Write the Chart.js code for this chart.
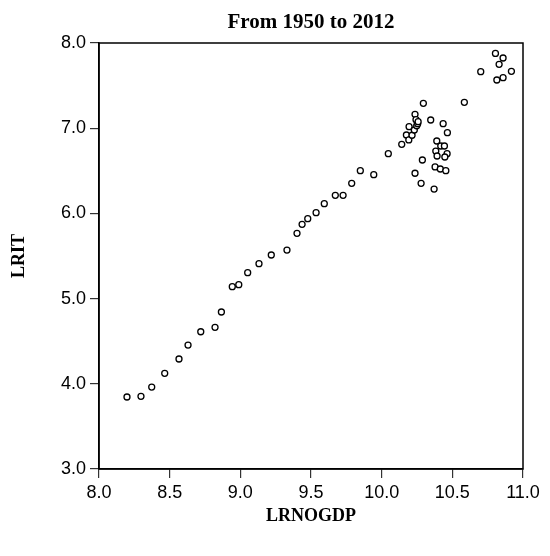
<!DOCTYPE html>
<html>
<head>
<meta charset="utf-8">
<script src="https://cdn.jsdelivr.net/npm/chart.js@4"></script>
<style>
  body { margin: 0; background: #fff; }
  #wrap { width: 550px; height: 556px; }
</style>
</head>
<body>
<div id="wrap"><canvas id="grafik-scatter" width="550" height="556"></canvas></div>
<script>
// LRNOGDP vs LRIT, yearly observations
const lrnogdp = [
    8.198, 8.297, 8.373, 8.465, 8.566, 8.630, 8.720, 8.821, 8.866, 8.943,
    8.989, 9.052, 9.132, 9.219, 9.330, 9.401, 9.437, 9.477, 9.536, 9.594,
    9.672, 9.727, 9.788, 9.849, 9.944, 10.047, 10.142, 10.175, 10.192, 10.194,
    10.215, 10.231, 10.236, 10.243, 10.248, 10.255, 10.258, 10.295, 10.347, 10.435,
    10.465, 10.390, 10.418, 10.444, 10.383, 10.463, 10.392, 10.447, 10.288, 10.378,
    10.415, 10.454, 10.236, 10.279, 10.371, 10.585, 10.701, 10.805, 10.859, 10.831,
    10.918, 10.815, 10.859
];
const lrit = [
    3.845, 3.853, 3.962, 4.123, 4.291, 4.455, 4.611, 4.663, 4.843, 5.140,
    5.163, 5.304, 5.410, 5.512, 5.570, 5.766, 5.872, 5.938, 6.008, 6.114,
    6.212, 6.212, 6.353, 6.501, 6.454, 6.701, 6.811, 6.920, 6.862, 7.018,
    6.917, 6.979, 7.163, 7.100, 7.029, 7.053, 7.076, 7.292, 7.096, 7.053,
    6.947, 6.850, 6.791, 6.791, 6.732, 6.701, 6.674, 6.662, 6.627, 6.545,
    6.521, 6.501, 6.471, 6.353, 6.286, 7.304, 7.663, 7.878, 7.824, 7.750,
    7.668, 7.566, 7.593
];
const judul = 'From 1950 to 2012';
const labelX = 'LRNOGDP';
const labelY = 'LRIT';

const titik = lrnogdp.map((x, i) => ({ x: x, y: lrit[i] }));

const serif = '"Liberation Serif", "Times New Roman", serif';
const sans = '"Liberation Sans", Arial, sans-serif';

// title above the plot box + closing the top and right sides of the frame
const bingkai = {
    id: 'bingkai',
    afterDraw(chart) {
        const { ctx, chartArea } = chart;
        ctx.save();
        ctx.strokeStyle = '#000';
        ctx.lineWidth = 1.5;
        ctx.strokeRect(chartArea.left, chartArea.top,
            chartArea.right - chartArea.left, chartArea.bottom - chartArea.top);
        ctx.fillStyle = '#000';
        ctx.font = 'bold 21px ' + serif;
        ctx.textAlign = 'center';
        ctx.textBaseline = 'alphabetic';
        ctx.fillText(judul, (chartArea.left + chartArea.right) / 2, 28);
        ctx.restore();
    }
};

const ctx = document.getElementById('grafik-scatter');
new Chart(ctx, {
    type: 'scatter',
    data: {
        datasets: [{
            label: labelY,
            data: titik,
            pointRadius: 3,
            pointBorderWidth: 1.3,
            borderColor: '#000',
            backgroundColor: '#fff'
        }]
    },
    options: {
        responsive: false,
        devicePixelRatio: 1,
        animation: false,
        layout: { padding: { top: 43, right: 27, bottom: 0, left: 0 } },
        plugins: {
            legend: { display: false },
            tooltip: { enabled: false }
        },
        scales: {
            x: {
                type: 'linear',
                min: 8,
                max: 11,
                ticks: {
                    stepSize: 0.5,
                    maxRotation: 0,
                    padding: 4,
                    color: '#000',
                    font: { family: sans, size: 18 },
                    callback: v => v.toFixed(1)
                },
                grid: { drawOnChartArea: false, tickLength: 9, tickColor: '#333', lineWidth: 1.2 },
                border: { color: '#000', width: 1.5 },
                title: {
                    display: true,
                    text: labelX,
                    color: '#000',
                    font: { family: serif, size: 18, weight: 'bold' },
                    padding: { top: 0, bottom: 29 }
                },
                afterFit: s => { s.height = 556 - 469; }
            },
            y: {
                type: 'linear',
                min: 3,
                max: 8,
                ticks: {
                    stepSize: 1,
                    padding: 4,
                    color: '#000',
                    font: { family: sans, size: 18 },
                    callback: v => v.toFixed(1)
                },
                grid: { drawOnChartArea: false, tickLength: 9, tickColor: '#333', lineWidth: 1.2 },
                border: { color: '#000', width: 1.5 },
                title: {
                    display: true,
                    text: labelY,
                    color: '#000',
                    font: { family: serif, size: 18, weight: 'bold' },
                    padding: { top: 9, bottom: 0 }
                },
                afterFit: s => { s.width = 99; }
            }
        }
    },
    plugins: [bingkai]
});
</script>
</body>
</html>
